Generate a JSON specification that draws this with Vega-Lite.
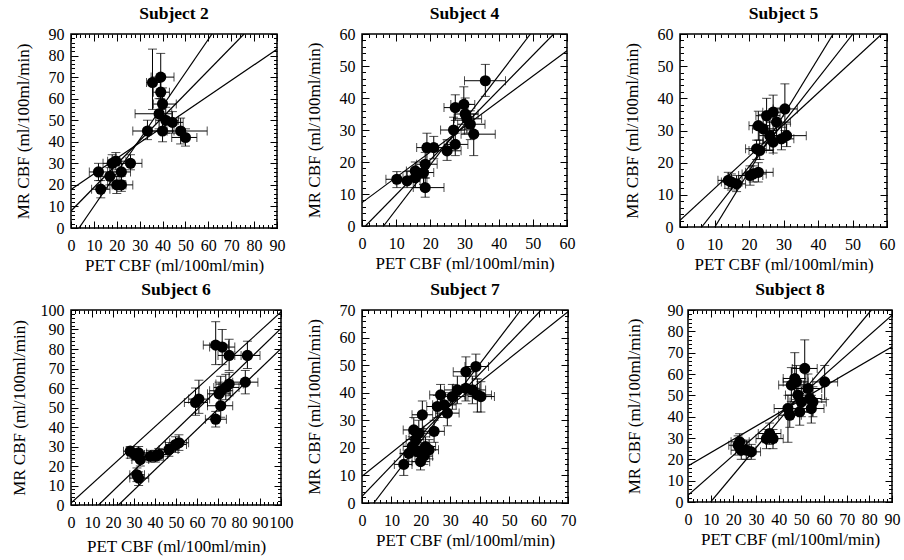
{
"$schema": "https://vega.github.io/schema/vega-lite/v6.json",
"padding": {"left": 9, "top": 3, "right": 5, "bottom": 5},
"background": "white",
"config": {
  "view": {"stroke": "black", "strokeWidth": 1.5},
  "font": "Liberation Serif",
  "title": {"font": "Liberation Serif", "fontSize": 17.5, "fontWeight": "bold", "color": "black", "offset": 4},
  "axis": {"labelFont": "Liberation Serif", "labelFontSize": 16, "labelColor": "black", "titleFont": "Liberation Serif", "titleFontSize": 17, "titleFontWeight": "normal", "titleColor": "black", "ticks": true, "tickColor": "black", "tickOpacity": 1, "tickWidth": 1, "domain": false, "grid": false, "labelOverlap": false, "labelFlush": false, "labelBound": false, "titlePadding": 16},
  "axisX": {"ticks": true, "tickColor": "black", "tickOpacity": 1, "tickWidth": 1},
  "axisY": {"ticks": true, "tickColor": "black", "tickOpacity": 1, "tickWidth": 1},
  "axisQuantitative": {"ticks": true, "tickColor": "black", "tickOpacity": 1, "tickWidth": 1}
},
"datasets": {
  "p2": [
    {"x":12,"y":26,"xlo":8,"xhi":16,"ylo":22,"yhi":30},
    {"x":13,"y":18,"xlo":9,"xhi":17,"ylo":14,"yhi":22},
    {"x":18,"y":30,"xlo":14,"xhi":22,"ylo":26,"yhi":34},
    {"x":19.6,"y":31,"xlo":16,"xhi":24,"ylo":27,"yhi":35},
    {"x":17,"y":24,"xlo":13,"xhi":21,"ylo":20,"yhi":28},
    {"x":20,"y":20,"xlo":16,"xhi":24,"ylo":16,"yhi":24},
    {"x":22,"y":20,"xlo":18,"xhi":27,"ylo":17,"yhi":24},
    {"x":22,"y":26,"xlo":18,"xhi":26,"ylo":22,"yhi":30},
    {"x":26,"y":30,"xlo":21,"xhi":31,"ylo":27,"yhi":34},
    {"x":33.4,"y":45,"xlo":27,"xhi":40,"ylo":41,"yhi":50},
    {"x":35.6,"y":67.5,"xlo":33,"xhi":39,"ylo":55,"yhi":83},
    {"x":39.2,"y":70,"xlo":35,"xhi":45,"ylo":60,"yhi":81},
    {"x":39.2,"y":63,"xlo":36,"xhi":43,"ylo":55,"yhi":71},
    {"x":40,"y":57.5,"xlo":36,"xhi":46,"ylo":50,"yhi":65},
    {"x":38.5,"y":53,"xlo":28,"xhi":44,"ylo":46,"yhi":60},
    {"x":41.4,"y":50,"xlo":37,"xhi":47,"ylo":44,"yhi":56},
    {"x":40,"y":45,"xlo":35,"xhi":45,"ylo":40,"yhi":50},
    {"x":44.3,"y":49,"xlo":40,"xhi":49,"ylo":44,"yhi":54},
    {"x":47.9,"y":45,"xlo":42,"xhi":59.5,"ylo":39,"yhi":51},
    {"x":50,"y":42,"xlo":44,"xhi":55,"ylo":38,"yhi":46}
  ],
  "f2": [
    {"line":"a","x":3.5,"y":0},{"line":"a","x":61.6,"y":90},
    {"line":"b","x":0,"y":7.9},{"line":"b","x":75.6,"y":90},
    {"line":"c","x":0,"y":17.9},{"line":"c","x":90,"y":82.9}
  ],
  "p4": [
    {"x":36.1,"y":45.4,"xlo":30,"xhi":42,"ylo":40.5,"yhi":50.5},
    {"x":27.3,"y":37,"xlo":24,"xhi":31,"ylo":33,"yhi":41},
    {"x":29.8,"y":38,"xlo":26,"xhi":33,"ylo":33,"yhi":43.5},
    {"x":26.8,"y":30,"xlo":23,"xhi":30,"ylo":26,"yhi":34},
    {"x":24.9,"y":23.5,"xlo":21,"xhi":29,"ylo":20.5,"yhi":27},
    {"x":27.3,"y":25.5,"xlo":24,"xhi":31,"ylo":22,"yhi":29},
    {"x":30.7,"y":33.5,"xlo":27,"xhi":35,"ylo":29,"yhi":38},
    {"x":31.7,"y":31.8,"xlo":28,"xhi":36,"ylo":27,"yhi":36},
    {"x":32.7,"y":28.7,"xlo":29,"xhi":39,"ylo":22,"yhi":35},
    {"x":30.2,"y":35,"xlo":27,"xhi":34,"ylo":30,"yhi":40},
    {"x":19,"y":24.5,"xlo":16,"xhi":22,"ylo":20,"yhi":29},
    {"x":21,"y":24.5,"xlo":18,"xhi":25,"ylo":21,"yhi":28},
    {"x":18.5,"y":19.3,"xlo":16,"xhi":22,"ylo":15,"yhi":23},
    {"x":18,"y":16.7,"xlo":15,"xhi":21,"ylo":13,"yhi":20},
    {"x":18.5,"y":12,"xlo":15,"xhi":24,"ylo":9,"yhi":15},
    {"x":15.6,"y":17.2,"xlo":13,"xhi":19,"ylo":14,"yhi":20},
    {"x":10.2,"y":14.6,"xlo":7,"xhi":14,"ylo":12,"yhi":17},
    {"x":13.2,"y":14.1,"xlo":10,"xhi":17,"ylo":12,"yhi":17},
    {"x":15.6,"y":15.1,"xlo":12,"xhi":19,"ylo":12,"yhi":18}
  ],
  "f4": [
    {"line":"a","x":6.3,"y":0},{"line":"a","x":49.3,"y":60},
    {"line":"b","x":1,"y":0},{"line":"b","x":56.1,"y":60},
    {"line":"c","x":0,"y":7.3},{"line":"c","x":60,"y":54.8}
  ],
  "p5": [
    {"x":14,"y":14.5,"xlo":11,"xhi":17,"ylo":12,"yhi":17},
    {"x":14.9,"y":14,"xlo":12,"xhi":18,"ylo":11.5,"yhi":16.5},
    {"x":16.4,"y":13.4,"xlo":13,"xhi":19,"ylo":11,"yhi":16},
    {"x":20.3,"y":16,"xlo":17,"xhi":24,"ylo":13,"yhi":19},
    {"x":21.2,"y":16.5,"xlo":18,"xhi":25,"ylo":14,"yhi":19},
    {"x":22.7,"y":17,"xlo":19,"xhi":27,"ylo":14,"yhi":20},
    {"x":22.2,"y":24.3,"xlo":19,"xhi":25,"ylo":21,"yhi":27},
    {"x":23.1,"y":23.8,"xlo":20,"xhi":27,"ylo":21,"yhi":27},
    {"x":22.7,"y":31.5,"xlo":20,"xhi":26,"ylo":27,"yhi":36},
    {"x":24.1,"y":30.5,"xlo":21,"xhi":28,"ylo":26,"yhi":35},
    {"x":25.1,"y":34.6,"xlo":22,"xhi":29,"ylo":29,"yhi":40},
    {"x":26,"y":28.4,"xlo":23,"xhi":30,"ylo":24,"yhi":33},
    {"x":27,"y":35.7,"xlo":24,"xhi":30,"ylo":30,"yhi":41},
    {"x":28,"y":32.6,"xlo":25,"xhi":32,"ylo":28,"yhi":37},
    {"x":29.4,"y":27.4,"xlo":26,"xhi":33,"ylo":24,"yhi":31},
    {"x":30.4,"y":36.7,"xlo":27,"xhi":34,"ylo":30,"yhi":44.5},
    {"x":30.9,"y":28.4,"xlo":27,"xhi":36.6,"ylo":25,"yhi":32},
    {"x":27,"y":26.4,"xlo":24,"xhi":31,"ylo":23,"yhi":30}
  ],
  "f5": [
    {"line":"a","x":10.1,"y":0},{"line":"a","x":44.4,"y":60},
    {"line":"b","x":6.3,"y":0},{"line":"b","x":50.1,"y":60},
    {"line":"c","x":0,"y":2.1},{"line":"c","x":58.5,"y":60}
  ],
  "p6": [
    {"x":28.2,"y":27.6,"xlo":25,"xhi":32,"ylo":24,"yhi":30},
    {"x":30.6,"y":25.9,"xlo":27,"xhi":35,"ylo":23,"yhi":29},
    {"x":32.2,"y":26.7,"xlo":28,"xhi":36,"ylo":23,"yhi":30},
    {"x":33,"y":23.3,"xlo":29,"xhi":37,"ylo":20,"yhi":27},
    {"x":31.4,"y":15.5,"xlo":28,"xhi":35,"ylo":12,"yhi":19},
    {"x":32.2,"y":13.8,"xlo":28,"xhi":37,"ylo":10,"yhi":17},
    {"x":37.8,"y":25,"xlo":34,"xhi":42,"ylo":22,"yhi":28},
    {"x":40.2,"y":25,"xlo":36,"xhi":44,"ylo":22,"yhi":28},
    {"x":41.8,"y":25.9,"xlo":38,"xhi":46,"ylo":23,"yhi":29},
    {"x":46.6,"y":28.4,"xlo":42,"xhi":51,"ylo":25,"yhi":32},
    {"x":49.8,"y":31,"xlo":45,"xhi":55,"ylo":27,"yhi":35},
    {"x":51.4,"y":31.9,"xlo":47,"xhi":56,"ylo":28,"yhi":36},
    {"x":59.3,"y":52.6,"xlo":54,"xhi":65,"ylo":46,"yhi":60},
    {"x":60.9,"y":54.3,"xlo":56,"xhi":66,"ylo":47,"yhi":64},
    {"x":68.9,"y":44,"xlo":64,"xhi":74,"ylo":40,"yhi":48},
    {"x":71.3,"y":50.9,"xlo":65,"xhi":77,"ylo":45,"yhi":57},
    {"x":70.5,"y":57,"xlo":65,"xhi":76,"ylo":51,"yhi":63},
    {"x":71.3,"y":58.6,"xlo":66,"xhi":77,"ylo":52,"yhi":66},
    {"x":73.7,"y":60.3,"xlo":68,"xhi":80,"ylo":54,"yhi":67},
    {"x":75.3,"y":62,"xlo":69,"xhi":82,"ylo":56,"yhi":68},
    {"x":83,"y":63,"xlo":77,"xhi":89,"ylo":57,"yhi":69},
    {"x":68.9,"y":82,"xlo":63,"xhi":75,"ylo":72,"yhi":94},
    {"x":72,"y":81,"xlo":66,"xhi":78,"ylo":72,"yhi":90},
    {"x":75.3,"y":76.7,"xlo":70,"xhi":81,"ylo":69,"yhi":85},
    {"x":84,"y":76.7,"xlo":78,"xhi":90,"ylo":70,"yhi":84}
  ],
  "f6": [
    {"line":"a","x":0,"y":1},{"line":"a","x":100,"y":99},
    {"line":"b","x":13.1,"y":0},{"line":"b","x":100,"y":90.5},
    {"line":"c","x":22.6,"y":0},{"line":"c","x":100,"y":80.2}
  ],
  "p7": [
    {"x":14.2,"y":14,"xlo":11,"xhi":17,"ylo":10,"yhi":18},
    {"x":15.9,"y":18,"xlo":13,"xhi":19,"ylo":15,"yhi":21},
    {"x":17.1,"y":20.5,"xlo":14,"xhi":20,"ylo":17,"yhi":24},
    {"x":18.2,"y":23,"xlo":15,"xhi":21,"ylo":19,"yhi":27},
    {"x":17.6,"y":26.5,"xlo":14,"xhi":21,"ylo":22,"yhi":31},
    {"x":19.3,"y":25.3,"xlo":16,"xhi":23,"ylo":21,"yhi":30},
    {"x":20.5,"y":32,"xlo":17,"xhi":24,"ylo":27,"yhi":37},
    {"x":21.6,"y":20.5,"xlo":18,"xhi":25,"ylo":17,"yhi":24},
    {"x":21,"y":17,"xlo":18,"xhi":24,"ylo":14,"yhi":20},
    {"x":19.9,"y":15,"xlo":17,"xhi":23,"ylo":12,"yhi":18},
    {"x":18.8,"y":18.7,"xlo":16,"xhi":22,"ylo":15,"yhi":22},
    {"x":22.8,"y":19.3,"xlo":20,"xhi":26,"ylo":16,"yhi":23},
    {"x":24.5,"y":26,"xlo":21,"xhi":28,"ylo":22,"yhi":30},
    {"x":25.6,"y":35,"xlo":22,"xhi":29,"ylo":31,"yhi":39},
    {"x":26.7,"y":39.2,"xlo":23,"xhi":31,"ylo":35,"yhi":43},
    {"x":27.9,"y":35.6,"xlo":24,"xhi":32,"ylo":31,"yhi":40},
    {"x":29,"y":32.6,"xlo":25,"xhi":33,"ylo":28,"yhi":37},
    {"x":30.7,"y":38.6,"xlo":27,"xhi":35,"ylo":34,"yhi":43},
    {"x":32.4,"y":41,"xlo":28,"xhi":37,"ylo":36,"yhi":46},
    {"x":35.3,"y":41.6,"xlo":31,"xhi":40,"ylo":37,"yhi":46},
    {"x":35.3,"y":47.6,"xlo":31,"xhi":39,"ylo":43,"yhi":53},
    {"x":38.7,"y":49.5,"xlo":35,"xhi":43,"ylo":45,"yhi":54},
    {"x":37.5,"y":41,"xlo":33,"xhi":42,"ylo":36,"yhi":46},
    {"x":40.4,"y":38.6,"xlo":36,"xhi":45,"ylo":33,"yhi":44},
    {"x":39.2,"y":39.2,"xlo":35,"xhi":44,"ylo":33,"yhi":45}
  ],
  "f7": [
    {"line":"a","x":4,"y":0},{"line":"a","x":54,"y":70},
    {"line":"b","x":0,"y":2.4},{"line":"b","x":60.9,"y":70},
    {"line":"c","x":0,"y":9.7},{"line":"c","x":70,"y":69.4}
  ],
  "p8": [
    {"x":22.1,"y":26.6,"xlo":18,"xhi":26,"ylo":22,"yhi":31},
    {"x":23.5,"y":24.3,"xlo":19,"xhi":28,"ylo":20,"yhi":29},
    {"x":25.7,"y":24.3,"xlo":21,"xhi":30,"ylo":20,"yhi":29},
    {"x":27.9,"y":23.5,"xlo":23,"xhi":32,"ylo":20,"yhi":27},
    {"x":22.8,"y":28.2,"xlo":19,"xhi":27,"ylo":24,"yhi":32},
    {"x":36,"y":32.1,"xlo":31,"xhi":41,"ylo":27,"yhi":37},
    {"x":37.5,"y":29.7,"xlo":33,"xhi":42,"ylo":25,"yhi":34},
    {"x":34.6,"y":29.7,"xlo":30,"xhi":39,"ylo":25,"yhi":34},
    {"x":44.1,"y":43.8,"xlo":38,"xhi":50,"ylo":28,"yhi":50},
    {"x":44.9,"y":40.7,"xlo":40,"xhi":50,"ylo":35,"yhi":46},
    {"x":45.6,"y":54.8,"xlo":40,"xhi":51,"ylo":47,"yhi":63},
    {"x":47.1,"y":57.9,"xlo":42,"xhi":52,"ylo":50,"yhi":70},
    {"x":48.5,"y":50.1,"xlo":43,"xhi":54,"ylo":43,"yhi":57},
    {"x":50,"y":46.9,"xlo":45,"xhi":55,"ylo":40,"yhi":54},
    {"x":51.5,"y":62.6,"xlo":46,"xhi":57,"ylo":55,"yhi":76},
    {"x":52.9,"y":53.2,"xlo":47,"xhi":59,"ylo":46,"yhi":60},
    {"x":54.4,"y":43.8,"xlo":49,"xhi":60,"ylo":37,"yhi":50},
    {"x":55.1,"y":46.9,"xlo":50,"xhi":61,"ylo":40,"yhi":54},
    {"x":49.3,"y":42.3,"xlo":44,"xhi":55,"ylo":36,"yhi":49},
    {"x":47.8,"y":56.3,"xlo":42,"xhi":53,"ylo":48,"yhi":64},
    {"x":60.3,"y":56.3,"xlo":55,"xhi":66,"ylo":48,"yhi":64},
    {"x":53.7,"y":48.5,"xlo":48,"xhi":59,"ylo":42,"yhi":55}
  ],
  "f8": [
    {"line":"a","x":10,"y":0},{"line":"a","x":80.9,"y":90},
    {"line":"b","x":0,"y":3.1},{"line":"b","x":90,"y":87.6},
    {"line":"c","x":0,"y":16.9},{"line":"c","x":90,"y":72.8}
  ]
},
"vconcat": [
 {"hconcat": [
  {"title": "Subject 2", "width": 206, "height": 194, "data": {"name": "p2"},
   "resolve": {"axis": {"x": "independent", "y": "independent"}},
   "layer": [
    {"mark": {"type": "rule", "color": "black", "strokeWidth": 1},
     "encoding": {
      "x": {"field": "xlo", "type": "quantitative", "scale": {"domain": [0, 90], "nice": false, "zero": false}, "axis": {"orient": "bottom", "ticks": true, "tickColor": "black", "tickWidth": 1, "tickOpacity": 1, "zindex": 1, "values": [0,10,20,30,40,50,60,70,80,90], "tickSize": 7, "offset": -7, "labelPadding": 9, "title": "PET CBF (ml/100ml/min)", "titlePadding": 4}},
      "x2": {"field": "xhi"},
      "y": {"field": "y", "type": "quantitative", "scale": {"domain": [0, 90], "nice": false, "zero": false}, "axis": {"orient": "left", "ticks": true, "tickColor": "black", "tickWidth": 1, "tickOpacity": 1, "zindex": 1, "values": [0,10,20,30,40,50,60,70,80,90], "tickSize": 7, "offset": -7, "labelPadding": 7, "title": "MR CBF (ml/100ml/min)"}}}},
    {"mark": {"type": "rule", "color": "black", "strokeWidth": 1},
     "encoding": {
      "x": {"field": "x", "type": "quantitative", "scale": {"domain": [0, 90], "nice": false, "zero": false}, "axis": {"orient": "bottom", "ticks": true, "tickColor": "black", "tickWidth": 1, "tickOpacity": 1, "zindex": 1, "values": [0,2,4,6,8,10,12,14,16,18,20,22,24,26,28,30,32,34,36,38,40,42,44,46,48,50,52,54,56,58,60,62,64,66,68,70,72,74,76,78,80,82,84,86,88,90], "tickSize": 3.5, "offset": -3.5, "labels": false, "title": null}},
      "y": {"field": "ylo", "type": "quantitative", "scale": {"domain": [0, 90], "nice": false, "zero": false}, "axis": {"orient": "left", "ticks": true, "tickColor": "black", "tickWidth": 1, "tickOpacity": 1, "zindex": 1, "values": [0,2,4,6,8,10,12,14,16,18,20,22,24,26,28,30,32,34,36,38,40,42,44,46,48,50,52,54,56,58,60,62,64,66,68,70,72,74,76,78,80,82,84,86,88,90], "tickSize": 3.5, "offset": -3.5, "labels": false, "title": null}},
      "y2": {"field": "yhi"}}},
    {"mark": {"type": "tick", "orient": "vertical", "size": 9, "thickness": 1, "color": "black"},
     "encoding": {
      "x": {"field": "xlo", "type": "quantitative", "scale": {"domain": [0, 90], "nice": false, "zero": false}, "axis": {"orient": "top", "ticks": true, "tickColor": "black", "tickWidth": 1, "tickOpacity": 1, "zindex": 1, "values": [0,10,20,30,40,50,60,70,80,90], "tickSize": 7, "offset": -7, "labels": false, "title": null}},
      "y": {"field": "y", "type": "quantitative", "scale": {"domain": [0, 90], "nice": false, "zero": false}, "axis": {"orient": "right", "ticks": true, "tickColor": "black", "tickWidth": 1, "tickOpacity": 1, "zindex": 1, "values": [0,10,20,30,40,50,60,70,80,90], "tickSize": 7, "offset": -7, "labels": false, "title": null}}}},
    {"mark": {"type": "tick", "orient": "vertical", "size": 9, "thickness": 1, "color": "black"},
     "encoding": {
      "x": {"field": "xhi", "type": "quantitative", "scale": {"domain": [0, 90], "nice": false, "zero": false}, "axis": {"orient": "top", "ticks": true, "tickColor": "black", "tickWidth": 1, "tickOpacity": 1, "zindex": 1, "values": [0,2,4,6,8,10,12,14,16,18,20,22,24,26,28,30,32,34,36,38,40,42,44,46,48,50,52,54,56,58,60,62,64,66,68,70,72,74,76,78,80,82,84,86,88,90], "tickSize": 3.5, "offset": -3.5, "labels": false, "title": null}},
      "y": {"field": "y", "type": "quantitative", "scale": {"domain": [0, 90], "nice": false, "zero": false}, "axis": {"orient": "right", "ticks": true, "tickColor": "black", "tickWidth": 1, "tickOpacity": 1, "zindex": 1, "values": [0,2,4,6,8,10,12,14,16,18,20,22,24,26,28,30,32,34,36,38,40,42,44,46,48,50,52,54,56,58,60,62,64,66,68,70,72,74,76,78,80,82,84,86,88,90], "tickSize": 3.5, "offset": -3.5, "labels": false, "title": null}}}},
    {"mark": {"type": "tick", "orient": "horizontal", "size": 9, "thickness": 1, "color": "black"},
     "encoding": {
      "x": {"field": "x", "type": "quantitative", "scale": {"domain": [0, 90], "nice": false, "zero": false}, "axis": null},
      "y": {"field": "ylo", "type": "quantitative", "scale": {"domain": [0, 90], "nice": false, "zero": false}, "axis": null}}},
    {"mark": {"type": "tick", "orient": "horizontal", "size": 9, "thickness": 1, "color": "black"},
     "encoding": {
      "x": {"field": "x", "type": "quantitative", "scale": {"domain": [0, 90], "nice": false, "zero": false}, "axis": null},
      "y": {"field": "yhi", "type": "quantitative", "scale": {"domain": [0, 90], "nice": false, "zero": false}, "axis": null}}},
    {"data": {"name": "f2"}, "mark": {"type": "line", "color": "black", "strokeWidth": 1.2, "clip": true},
     "encoding": {
      "x": {"field": "x", "type": "quantitative", "scale": {"domain": [0, 90], "nice": false, "zero": false}, "axis": null},
      "y": {"field": "y", "type": "quantitative", "scale": {"domain": [0, 90], "nice": false, "zero": false}, "axis": null},
      "detail": {"field": "line", "type": "nominal"}}},
    {"mark": {"type": "circle", "size": 125, "color": "black", "opacity": 1},
     "encoding": {
      "x": {"field": "x", "type": "quantitative", "scale": {"domain": [0, 90], "nice": false, "zero": false}, "axis": null},
      "y": {"field": "y", "type": "quantitative", "scale": {"domain": [0, 90], "nice": false, "zero": false}, "axis": null}}}
   ]},
  {"hconcat": [
   {"title": "Subject 4", "width": 205, "height": 192, "data": {"name": "p4"},
    "resolve": {"axis": {"x": "independent", "y": "independent"}},
    "layer": [
     {"mark": {"type": "rule", "color": "black", "strokeWidth": 1},
      "encoding": {
       "x": {"field": "xlo", "type": "quantitative", "scale": {"domain": [0, 60], "nice": false, "zero": false}, "axis": {"orient": "bottom", "ticks": true, "tickColor": "black", "tickWidth": 1, "tickOpacity": 1, "zindex": 1, "values": [0,10,20,30,40,50,60], "tickSize": 7, "offset": -7, "labelPadding": 9, "title": "PET CBF (ml/100ml/min)", "titlePadding": 4}},
       "x2": {"field": "xhi"},
       "y": {"field": "y", "type": "quantitative", "scale": {"domain": [0, 60], "nice": false, "zero": false}, "axis": {"orient": "left", "ticks": true, "tickColor": "black", "tickWidth": 1, "tickOpacity": 1, "zindex": 1, "values": [0,10,20,30,40,50,60], "tickSize": 7, "offset": -7, "labelPadding": 7, "title": "MR CBF (ml/100ml/min)"}}}},
     {"mark": {"type": "rule", "color": "black", "strokeWidth": 1},
      "encoding": {
       "x": {"field": "x", "type": "quantitative", "scale": {"domain": [0, 60], "nice": false, "zero": false}, "axis": {"orient": "bottom", "ticks": true, "tickColor": "black", "tickWidth": 1, "tickOpacity": 1, "zindex": 1, "values": [0,2,4,6,8,10,12,14,16,18,20,22,24,26,28,30,32,34,36,38,40,42,44,46,48,50,52,54,56,58,60], "tickSize": 3.5, "offset": -3.5, "labels": false, "title": null}},
       "y": {"field": "ylo", "type": "quantitative", "scale": {"domain": [0, 60], "nice": false, "zero": false}, "axis": {"orient": "left", "ticks": true, "tickColor": "black", "tickWidth": 1, "tickOpacity": 1, "zindex": 1, "values": [0,2,4,6,8,10,12,14,16,18,20,22,24,26,28,30,32,34,36,38,40,42,44,46,48,50,52,54,56,58,60], "tickSize": 3.5, "offset": -3.5, "labels": false, "title": null}},
       "y2": {"field": "yhi"}}},
     {"mark": {"type": "tick", "orient": "vertical", "size": 9, "thickness": 1, "color": "black"},
      "encoding": {
       "x": {"field": "xlo", "type": "quantitative", "scale": {"domain": [0, 60], "nice": false, "zero": false}, "axis": {"orient": "top", "ticks": true, "tickColor": "black", "tickWidth": 1, "tickOpacity": 1, "zindex": 1, "values": [0,10,20,30,40,50,60], "tickSize": 7, "offset": -7, "labels": false, "title": null}},
       "y": {"field": "y", "type": "quantitative", "scale": {"domain": [0, 60], "nice": false, "zero": false}, "axis": {"orient": "right", "ticks": true, "tickColor": "black", "tickWidth": 1, "tickOpacity": 1, "zindex": 1, "values": [0,10,20,30,40,50,60], "tickSize": 7, "offset": -7, "labels": false, "title": null}}}},
     {"mark": {"type": "tick", "orient": "vertical", "size": 9, "thickness": 1, "color": "black"},
      "encoding": {
       "x": {"field": "xhi", "type": "quantitative", "scale": {"domain": [0, 60], "nice": false, "zero": false}, "axis": {"orient": "top", "ticks": true, "tickColor": "black", "tickWidth": 1, "tickOpacity": 1, "zindex": 1, "values": [0,2,4,6,8,10,12,14,16,18,20,22,24,26,28,30,32,34,36,38,40,42,44,46,48,50,52,54,56,58,60], "tickSize": 3.5, "offset": -3.5, "labels": false, "title": null}},
       "y": {"field": "y", "type": "quantitative", "scale": {"domain": [0, 60], "nice": false, "zero": false}, "axis": {"orient": "right", "ticks": true, "tickColor": "black", "tickWidth": 1, "tickOpacity": 1, "zindex": 1, "values": [0,2,4,6,8,10,12,14,16,18,20,22,24,26,28,30,32,34,36,38,40,42,44,46,48,50,52,54,56,58,60], "tickSize": 3.5, "offset": -3.5, "labels": false, "title": null}}}},
     {"mark": {"type": "tick", "orient": "horizontal", "size": 9, "thickness": 1, "color": "black"},
      "encoding": {
       "x": {"field": "x", "type": "quantitative", "scale": {"domain": [0, 60], "nice": false, "zero": false}, "axis": null},
       "y": {"field": "ylo", "type": "quantitative", "scale": {"domain": [0, 60], "nice": false, "zero": false}, "axis": null}}},
     {"mark": {"type": "tick", "orient": "horizontal", "size": 9, "thickness": 1, "color": "black"},
      "encoding": {
       "x": {"field": "x", "type": "quantitative", "scale": {"domain": [0, 60], "nice": false, "zero": false}, "axis": null},
       "y": {"field": "yhi", "type": "quantitative", "scale": {"domain": [0, 60], "nice": false, "zero": false}, "axis": null}}},
     {"data": {"name": "f4"}, "mark": {"type": "line", "color": "black", "strokeWidth": 1.2, "clip": true},
      "encoding": {
       "x": {"field": "x", "type": "quantitative", "scale": {"domain": [0, 60], "nice": false, "zero": false}, "axis": null},
       "y": {"field": "y", "type": "quantitative", "scale": {"domain": [0, 60], "nice": false, "zero": false}, "axis": null},
       "detail": {"field": "line", "type": "nominal"}}},
     {"mark": {"type": "circle", "size": 125, "color": "black", "opacity": 1},
      "encoding": {
       "x": {"field": "x", "type": "quantitative", "scale": {"domain": [0, 60], "nice": false, "zero": false}, "axis": null},
       "y": {"field": "y", "type": "quantitative", "scale": {"domain": [0, 60], "nice": false, "zero": false}, "axis": null}}}
    ]},
   {"title": "Subject 5", "width": 207, "height": 193, "data": {"name": "p5"},
    "resolve": {"axis": {"x": "independent", "y": "independent"}},
    "layer": [
     {"mark": {"type": "rule", "color": "black", "strokeWidth": 1},
      "encoding": {
       "x": {"field": "xlo", "type": "quantitative", "scale": {"domain": [0, 60], "nice": false, "zero": false}, "axis": {"orient": "bottom", "ticks": true, "tickColor": "black", "tickWidth": 1, "tickOpacity": 1, "zindex": 1, "values": [0,10,20,30,40,50,60], "tickSize": 7, "offset": -7, "labelPadding": 9, "title": "PET CBF (ml/100ml/min)", "titlePadding": 4}},
       "x2": {"field": "xhi"},
       "y": {"field": "y", "type": "quantitative", "scale": {"domain": [0, 60], "nice": false, "zero": false}, "axis": {"orient": "left", "ticks": true, "tickColor": "black", "tickWidth": 1, "tickOpacity": 1, "zindex": 1, "values": [0,10,20,30,40,50,60], "tickSize": 7, "offset": -7, "labelPadding": 7, "title": "MR CBF (ml/100ml/min)"}}}},
     {"mark": {"type": "rule", "color": "black", "strokeWidth": 1},
      "encoding": {
       "x": {"field": "x", "type": "quantitative", "scale": {"domain": [0, 60], "nice": false, "zero": false}, "axis": {"orient": "bottom", "ticks": true, "tickColor": "black", "tickWidth": 1, "tickOpacity": 1, "zindex": 1, "values": [0,2,4,6,8,10,12,14,16,18,20,22,24,26,28,30,32,34,36,38,40,42,44,46,48,50,52,54,56,58,60], "tickSize": 3.5, "offset": -3.5, "labels": false, "title": null}},
       "y": {"field": "ylo", "type": "quantitative", "scale": {"domain": [0, 60], "nice": false, "zero": false}, "axis": {"orient": "left", "ticks": true, "tickColor": "black", "tickWidth": 1, "tickOpacity": 1, "zindex": 1, "values": [0,2,4,6,8,10,12,14,16,18,20,22,24,26,28,30,32,34,36,38,40,42,44,46,48,50,52,54,56,58,60], "tickSize": 3.5, "offset": -3.5, "labels": false, "title": null}},
       "y2": {"field": "yhi"}}},
     {"mark": {"type": "tick", "orient": "vertical", "size": 9, "thickness": 1, "color": "black"},
      "encoding": {
       "x": {"field": "xlo", "type": "quantitative", "scale": {"domain": [0, 60], "nice": false, "zero": false}, "axis": {"orient": "top", "ticks": true, "tickColor": "black", "tickWidth": 1, "tickOpacity": 1, "zindex": 1, "values": [0,10,20,30,40,50,60], "tickSize": 7, "offset": -7, "labels": false, "title": null}},
       "y": {"field": "y", "type": "quantitative", "scale": {"domain": [0, 60], "nice": false, "zero": false}, "axis": {"orient": "right", "ticks": true, "tickColor": "black", "tickWidth": 1, "tickOpacity": 1, "zindex": 1, "values": [0,10,20,30,40,50,60], "tickSize": 7, "offset": -7, "labels": false, "title": null}}}},
     {"mark": {"type": "tick", "orient": "vertical", "size": 9, "thickness": 1, "color": "black"},
      "encoding": {
       "x": {"field": "xhi", "type": "quantitative", "scale": {"domain": [0, 60], "nice": false, "zero": false}, "axis": {"orient": "top", "ticks": true, "tickColor": "black", "tickWidth": 1, "tickOpacity": 1, "zindex": 1, "values": [0,2,4,6,8,10,12,14,16,18,20,22,24,26,28,30,32,34,36,38,40,42,44,46,48,50,52,54,56,58,60], "tickSize": 3.5, "offset": -3.5, "labels": false, "title": null}},
       "y": {"field": "y", "type": "quantitative", "scale": {"domain": [0, 60], "nice": false, "zero": false}, "axis": {"orient": "right", "ticks": true, "tickColor": "black", "tickWidth": 1, "tickOpacity": 1, "zindex": 1, "values": [0,2,4,6,8,10,12,14,16,18,20,22,24,26,28,30,32,34,36,38,40,42,44,46,48,50,52,54,56,58,60], "tickSize": 3.5, "offset": -3.5, "labels": false, "title": null}}}},
     {"mark": {"type": "tick", "orient": "horizontal", "size": 9, "thickness": 1, "color": "black"},
      "encoding": {
       "x": {"field": "x", "type": "quantitative", "scale": {"domain": [0, 60], "nice": false, "zero": false}, "axis": null},
       "y": {"field": "ylo", "type": "quantitative", "scale": {"domain": [0, 60], "nice": false, "zero": false}, "axis": null}}},
     {"mark": {"type": "tick", "orient": "horizontal", "size": 9, "thickness": 1, "color": "black"},
      "encoding": {
       "x": {"field": "x", "type": "quantitative", "scale": {"domain": [0, 60], "nice": false, "zero": false}, "axis": null},
       "y": {"field": "yhi", "type": "quantitative", "scale": {"domain": [0, 60], "nice": false, "zero": false}, "axis": null}}},
     {"data": {"name": "f5"}, "mark": {"type": "line", "color": "black", "strokeWidth": 1.2, "clip": true},
      "encoding": {
       "x": {"field": "x", "type": "quantitative", "scale": {"domain": [0, 60], "nice": false, "zero": false}, "axis": null},
       "y": {"field": "y", "type": "quantitative", "scale": {"domain": [0, 60], "nice": false, "zero": false}, "axis": null},
       "detail": {"field": "line", "type": "nominal"}}},
     {"mark": {"type": "circle", "size": 125, "color": "black", "opacity": 1},
      "encoding": {
       "x": {"field": "x", "type": "quantitative", "scale": {"domain": [0, 60], "nice": false, "zero": false}, "axis": null},
       "y": {"field": "y", "type": "quantitative", "scale": {"domain": [0, 60], "nice": false, "zero": false}, "axis": null}}}
    ]}
  ], "spacing": 46}
 ], "spacing": 18},
 {"hconcat": [
  {"title": "Subject 6", "width": 210, "height": 195, "data": {"name": "p6"},
   "resolve": {"axis": {"x": "independent", "y": "independent"}},
   "layer": [
    {"mark": {"type": "rule", "color": "black", "strokeWidth": 1},
     "encoding": {
      "x": {"field": "xlo", "type": "quantitative", "scale": {"domain": [0, 100], "nice": false, "zero": false}, "axis": {"orient": "bottom", "ticks": true, "tickColor": "black", "tickWidth": 1, "tickOpacity": 1, "zindex": 1, "values": [0,10,20,30,40,50,60,70,80,90,100], "tickSize": 7, "offset": -7, "labelPadding": 9, "title": "PET CBF (ml/100ml/min)", "titlePadding": 8}},
      "x2": {"field": "xhi"},
      "y": {"field": "y", "type": "quantitative", "scale": {"domain": [0, 100], "nice": false, "zero": false}, "axis": {"orient": "left", "ticks": true, "tickColor": "black", "tickWidth": 1, "tickOpacity": 1, "zindex": 1, "values": [0,10,20,30,40,50,60,70,80,90,100], "tickSize": 7, "offset": -7, "labelPadding": 7, "title": "MR CBF (ml/100ml/min)", "titlePadding": 12}}}},
    {"mark": {"type": "rule", "color": "black", "strokeWidth": 1},
     "encoding": {
      "x": {"field": "x", "type": "quantitative", "scale": {"domain": [0, 100], "nice": false, "zero": false}, "axis": {"orient": "bottom", "ticks": true, "tickColor": "black", "tickWidth": 1, "tickOpacity": 1, "zindex": 1, "values": [0,2,4,6,8,10,12,14,16,18,20,22,24,26,28,30,32,34,36,38,40,42,44,46,48,50,52,54,56,58,60,62,64,66,68,70,72,74,76,78,80,82,84,86,88,90,92,94,96,98,100], "tickSize": 3.5, "offset": -3.5, "labels": false, "title": null}},
      "y": {"field": "ylo", "type": "quantitative", "scale": {"domain": [0, 100], "nice": false, "zero": false}, "axis": {"orient": "left", "ticks": true, "tickColor": "black", "tickWidth": 1, "tickOpacity": 1, "zindex": 1, "values": [0,2,4,6,8,10,12,14,16,18,20,22,24,26,28,30,32,34,36,38,40,42,44,46,48,50,52,54,56,58,60,62,64,66,68,70,72,74,76,78,80,82,84,86,88,90,92,94,96,98,100], "tickSize": 3.5, "offset": -3.5, "labels": false, "title": null}},
      "y2": {"field": "yhi"}}},
    {"mark": {"type": "tick", "orient": "vertical", "size": 9, "thickness": 1, "color": "black"},
     "encoding": {
      "x": {"field": "xlo", "type": "quantitative", "scale": {"domain": [0, 100], "nice": false, "zero": false}, "axis": {"orient": "top", "ticks": true, "tickColor": "black", "tickWidth": 1, "tickOpacity": 1, "zindex": 1, "values": [0,10,20,30,40,50,60,70,80,90,100], "tickSize": 7, "offset": -7, "labels": false, "title": null}},
      "y": {"field": "y", "type": "quantitative", "scale": {"domain": [0, 100], "nice": false, "zero": false}, "axis": {"orient": "right", "ticks": true, "tickColor": "black", "tickWidth": 1, "tickOpacity": 1, "zindex": 1, "values": [0,10,20,30,40,50,60,70,80,90,100], "tickSize": 7, "offset": -7, "labels": false, "title": null}}}},
    {"mark": {"type": "tick", "orient": "vertical", "size": 9, "thickness": 1, "color": "black"},
     "encoding": {
      "x": {"field": "xhi", "type": "quantitative", "scale": {"domain": [0, 100], "nice": false, "zero": false}, "axis": {"orient": "top", "ticks": true, "tickColor": "black", "tickWidth": 1, "tickOpacity": 1, "zindex": 1, "values": [0,2,4,6,8,10,12,14,16,18,20,22,24,26,28,30,32,34,36,38,40,42,44,46,48,50,52,54,56,58,60,62,64,66,68,70,72,74,76,78,80,82,84,86,88,90,92,94,96,98,100], "tickSize": 3.5, "offset": -3.5, "labels": false, "title": null}},
      "y": {"field": "y", "type": "quantitative", "scale": {"domain": [0, 100], "nice": false, "zero": false}, "axis": {"orient": "right", "ticks": true, "tickColor": "black", "tickWidth": 1, "tickOpacity": 1, "zindex": 1, "values": [0,2,4,6,8,10,12,14,16,18,20,22,24,26,28,30,32,34,36,38,40,42,44,46,48,50,52,54,56,58,60,62,64,66,68,70,72,74,76,78,80,82,84,86,88,90,92,94,96,98,100], "tickSize": 3.5, "offset": -3.5, "labels": false, "title": null}}}},
    {"mark": {"type": "tick", "orient": "horizontal", "size": 9, "thickness": 1, "color": "black"},
     "encoding": {
      "x": {"field": "x", "type": "quantitative", "scale": {"domain": [0, 100], "nice": false, "zero": false}, "axis": null},
      "y": {"field": "ylo", "type": "quantitative", "scale": {"domain": [0, 100], "nice": false, "zero": false}, "axis": null}}},
    {"mark": {"type": "tick", "orient": "horizontal", "size": 9, "thickness": 1, "color": "black"},
     "encoding": {
      "x": {"field": "x", "type": "quantitative", "scale": {"domain": [0, 100], "nice": false, "zero": false}, "axis": null},
      "y": {"field": "yhi", "type": "quantitative", "scale": {"domain": [0, 100], "nice": false, "zero": false}, "axis": null}}},
    {"data": {"name": "f6"}, "mark": {"type": "line", "color": "black", "strokeWidth": 1.2, "clip": true},
     "encoding": {
      "x": {"field": "x", "type": "quantitative", "scale": {"domain": [0, 100], "nice": false, "zero": false}, "axis": null},
      "y": {"field": "y", "type": "quantitative", "scale": {"domain": [0, 100], "nice": false, "zero": false}, "axis": null},
      "detail": {"field": "line", "type": "nominal"}}},
    {"mark": {"type": "circle", "size": 125, "color": "black", "opacity": 1},
     "encoding": {
      "x": {"field": "x", "type": "quantitative", "scale": {"domain": [0, 100], "nice": false, "zero": false}, "axis": null},
      "y": {"field": "y", "type": "quantitative", "scale": {"domain": [0, 100], "nice": false, "zero": false}, "axis": null}}}
   ]},
  {"hconcat": [
   {"title": "Subject 7", "width": 206, "height": 193, "data": {"name": "p7"},
    "resolve": {"axis": {"x": "independent", "y": "independent"}},
    "layer": [
     {"mark": {"type": "rule", "color": "black", "strokeWidth": 1},
      "encoding": {
       "x": {"field": "xlo", "type": "quantitative", "scale": {"domain": [0, 70], "nice": false, "zero": false}, "axis": {"orient": "bottom", "ticks": true, "tickColor": "black", "tickWidth": 1, "tickOpacity": 1, "zindex": 1, "values": [0,10,20,30,40,50,60,70], "tickSize": 7, "offset": -7, "labelPadding": 9, "title": "PET CBF (ml/100ml/min)", "titlePadding": 4}},
       "x2": {"field": "xhi"},
       "y": {"field": "y", "type": "quantitative", "scale": {"domain": [0, 70], "nice": false, "zero": false}, "axis": {"orient": "left", "ticks": true, "tickColor": "black", "tickWidth": 1, "tickOpacity": 1, "zindex": 1, "values": [0,10,20,30,40,50,60,70], "tickSize": 7, "offset": -7, "labelPadding": 7, "title": "MR CBF (ml/100ml/min)"}}}},
     {"mark": {"type": "rule", "color": "black", "strokeWidth": 1},
      "encoding": {
       "x": {"field": "x", "type": "quantitative", "scale": {"domain": [0, 70], "nice": false, "zero": false}, "axis": {"orient": "bottom", "ticks": true, "tickColor": "black", "tickWidth": 1, "tickOpacity": 1, "zindex": 1, "values": [0,2,4,6,8,10,12,14,16,18,20,22,24,26,28,30,32,34,36,38,40,42,44,46,48,50,52,54,56,58,60,62,64,66,68,70], "tickSize": 3.5, "offset": -3.5, "labels": false, "title": null}},
       "y": {"field": "ylo", "type": "quantitative", "scale": {"domain": [0, 70], "nice": false, "zero": false}, "axis": {"orient": "left", "ticks": true, "tickColor": "black", "tickWidth": 1, "tickOpacity": 1, "zindex": 1, "values": [0,2,4,6,8,10,12,14,16,18,20,22,24,26,28,30,32,34,36,38,40,42,44,46,48,50,52,54,56,58,60,62,64,66,68,70], "tickSize": 3.5, "offset": -3.5, "labels": false, "title": null}},
       "y2": {"field": "yhi"}}},
     {"mark": {"type": "tick", "orient": "vertical", "size": 9, "thickness": 1, "color": "black"},
      "encoding": {
       "x": {"field": "xlo", "type": "quantitative", "scale": {"domain": [0, 70], "nice": false, "zero": false}, "axis": {"orient": "top", "ticks": true, "tickColor": "black", "tickWidth": 1, "tickOpacity": 1, "zindex": 1, "values": [0,10,20,30,40,50,60,70], "tickSize": 7, "offset": -7, "labels": false, "title": null}},
       "y": {"field": "y", "type": "quantitative", "scale": {"domain": [0, 70], "nice": false, "zero": false}, "axis": {"orient": "right", "ticks": true, "tickColor": "black", "tickWidth": 1, "tickOpacity": 1, "zindex": 1, "values": [0,10,20,30,40,50,60,70], "tickSize": 7, "offset": -7, "labels": false, "title": null}}}},
     {"mark": {"type": "tick", "orient": "vertical", "size": 9, "thickness": 1, "color": "black"},
      "encoding": {
       "x": {"field": "xhi", "type": "quantitative", "scale": {"domain": [0, 70], "nice": false, "zero": false}, "axis": {"orient": "top", "ticks": true, "tickColor": "black", "tickWidth": 1, "tickOpacity": 1, "zindex": 1, "values": [0,2,4,6,8,10,12,14,16,18,20,22,24,26,28,30,32,34,36,38,40,42,44,46,48,50,52,54,56,58,60,62,64,66,68,70], "tickSize": 3.5, "offset": -3.5, "labels": false, "title": null}},
       "y": {"field": "y", "type": "quantitative", "scale": {"domain": [0, 70], "nice": false, "zero": false}, "axis": {"orient": "right", "ticks": true, "tickColor": "black", "tickWidth": 1, "tickOpacity": 1, "zindex": 1, "values": [0,2,4,6,8,10,12,14,16,18,20,22,24,26,28,30,32,34,36,38,40,42,44,46,48,50,52,54,56,58,60,62,64,66,68,70], "tickSize": 3.5, "offset": -3.5, "labels": false, "title": null}}}},
     {"mark": {"type": "tick", "orient": "horizontal", "size": 9, "thickness": 1, "color": "black"},
      "encoding": {
       "x": {"field": "x", "type": "quantitative", "scale": {"domain": [0, 70], "nice": false, "zero": false}, "axis": null},
       "y": {"field": "ylo", "type": "quantitative", "scale": {"domain": [0, 70], "nice": false, "zero": false}, "axis": null}}},
     {"mark": {"type": "tick", "orient": "horizontal", "size": 9, "thickness": 1, "color": "black"},
      "encoding": {
       "x": {"field": "x", "type": "quantitative", "scale": {"domain": [0, 70], "nice": false, "zero": false}, "axis": null},
       "y": {"field": "yhi", "type": "quantitative", "scale": {"domain": [0, 70], "nice": false, "zero": false}, "axis": null}}},
     {"data": {"name": "f7"}, "mark": {"type": "line", "color": "black", "strokeWidth": 1.2, "clip": true},
      "encoding": {
       "x": {"field": "x", "type": "quantitative", "scale": {"domain": [0, 70], "nice": false, "zero": false}, "axis": null},
       "y": {"field": "y", "type": "quantitative", "scale": {"domain": [0, 70], "nice": false, "zero": false}, "axis": null},
       "detail": {"field": "line", "type": "nominal"}}},
     {"mark": {"type": "circle", "size": 125, "color": "black", "opacity": 1},
      "encoding": {
       "x": {"field": "x", "type": "quantitative", "scale": {"domain": [0, 70], "nice": false, "zero": false}, "axis": null},
       "y": {"field": "y", "type": "quantitative", "scale": {"domain": [0, 70], "nice": false, "zero": false}, "axis": null}}}
    ]},
   {"title": "Subject 8", "width": 204, "height": 192, "data": {"name": "p8"},
    "resolve": {"axis": {"x": "independent", "y": "independent"}},
    "layer": [
     {"mark": {"type": "rule", "color": "black", "strokeWidth": 1},
      "encoding": {
       "x": {"field": "xlo", "type": "quantitative", "scale": {"domain": [0, 90], "nice": false, "zero": false}, "axis": {"orient": "bottom", "ticks": true, "tickColor": "black", "tickWidth": 1, "tickOpacity": 1, "zindex": 1, "values": [0,10,20,30,40,50,60,70,80,90], "tickSize": 7, "offset": -7, "labelPadding": 9, "title": "PET CBF (ml/100ml/min)", "titlePadding": 4}},
       "x2": {"field": "xhi"},
       "y": {"field": "y", "type": "quantitative", "scale": {"domain": [0, 90], "nice": false, "zero": false}, "axis": {"orient": "left", "ticks": true, "tickColor": "black", "tickWidth": 1, "tickOpacity": 1, "zindex": 1, "values": [0,10,20,30,40,50,60,70,80,90], "tickSize": 7, "offset": -7, "labelPadding": 5, "title": "MR CBF (ml/100ml/min)", "titlePadding": 24}}}},
     {"mark": {"type": "rule", "color": "black", "strokeWidth": 1},
      "encoding": {
       "x": {"field": "x", "type": "quantitative", "scale": {"domain": [0, 90], "nice": false, "zero": false}, "axis": {"orient": "bottom", "ticks": true, "tickColor": "black", "tickWidth": 1, "tickOpacity": 1, "zindex": 1, "values": [0,2,4,6,8,10,12,14,16,18,20,22,24,26,28,30,32,34,36,38,40,42,44,46,48,50,52,54,56,58,60,62,64,66,68,70,72,74,76,78,80,82,84,86,88,90], "tickSize": 3.5, "offset": -3.5, "labels": false, "title": null}},
       "y": {"field": "ylo", "type": "quantitative", "scale": {"domain": [0, 90], "nice": false, "zero": false}, "axis": {"orient": "left", "ticks": true, "tickColor": "black", "tickWidth": 1, "tickOpacity": 1, "zindex": 1, "values": [0,2,4,6,8,10,12,14,16,18,20,22,24,26,28,30,32,34,36,38,40,42,44,46,48,50,52,54,56,58,60,62,64,66,68,70,72,74,76,78,80,82,84,86,88,90], "tickSize": 3.5, "offset": -3.5, "labels": false, "title": null}},
       "y2": {"field": "yhi"}}},
     {"mark": {"type": "tick", "orient": "vertical", "size": 9, "thickness": 1, "color": "black"},
      "encoding": {
       "x": {"field": "xlo", "type": "quantitative", "scale": {"domain": [0, 90], "nice": false, "zero": false}, "axis": {"orient": "top", "ticks": true, "tickColor": "black", "tickWidth": 1, "tickOpacity": 1, "zindex": 1, "values": [0,10,20,30,40,50,60,70,80,90], "tickSize": 7, "offset": -7, "labels": false, "title": null}},
       "y": {"field": "y", "type": "quantitative", "scale": {"domain": [0, 90], "nice": false, "zero": false}, "axis": {"orient": "right", "ticks": true, "tickColor": "black", "tickWidth": 1, "tickOpacity": 1, "zindex": 1, "values": [0,10,20,30,40,50,60,70,80,90], "tickSize": 7, "offset": -7, "labels": false, "title": null}}}},
     {"mark": {"type": "tick", "orient": "vertical", "size": 9, "thickness": 1, "color": "black"},
      "encoding": {
       "x": {"field": "xhi", "type": "quantitative", "scale": {"domain": [0, 90], "nice": false, "zero": false}, "axis": {"orient": "top", "ticks": true, "tickColor": "black", "tickWidth": 1, "tickOpacity": 1, "zindex": 1, "values": [0,2,4,6,8,10,12,14,16,18,20,22,24,26,28,30,32,34,36,38,40,42,44,46,48,50,52,54,56,58,60,62,64,66,68,70,72,74,76,78,80,82,84,86,88,90], "tickSize": 3.5, "offset": -3.5, "labels": false, "title": null}},
       "y": {"field": "y", "type": "quantitative", "scale": {"domain": [0, 90], "nice": false, "zero": false}, "axis": {"orient": "right", "ticks": true, "tickColor": "black", "tickWidth": 1, "tickOpacity": 1, "zindex": 1, "values": [0,2,4,6,8,10,12,14,16,18,20,22,24,26,28,30,32,34,36,38,40,42,44,46,48,50,52,54,56,58,60,62,64,66,68,70,72,74,76,78,80,82,84,86,88,90], "tickSize": 3.5, "offset": -3.5, "labels": false, "title": null}}}},
     {"mark": {"type": "tick", "orient": "horizontal", "size": 9, "thickness": 1, "color": "black"},
      "encoding": {
       "x": {"field": "x", "type": "quantitative", "scale": {"domain": [0, 90], "nice": false, "zero": false}, "axis": null},
       "y": {"field": "ylo", "type": "quantitative", "scale": {"domain": [0, 90], "nice": false, "zero": false}, "axis": null}}},
     {"mark": {"type": "tick", "orient": "horizontal", "size": 9, "thickness": 1, "color": "black"},
      "encoding": {
       "x": {"field": "x", "type": "quantitative", "scale": {"domain": [0, 90], "nice": false, "zero": false}, "axis": null},
       "y": {"field": "yhi", "type": "quantitative", "scale": {"domain": [0, 90], "nice": false, "zero": false}, "axis": null}}},
     {"data": {"name": "f8"}, "mark": {"type": "line", "color": "black", "strokeWidth": 1.2, "clip": true},
      "encoding": {
       "x": {"field": "x", "type": "quantitative", "scale": {"domain": [0, 90], "nice": false, "zero": false}, "axis": null},
       "y": {"field": "y", "type": "quantitative", "scale": {"domain": [0, 90], "nice": false, "zero": false}, "axis": null},
       "detail": {"field": "line", "type": "nominal"}}},
     {"mark": {"type": "circle", "size": 125, "color": "black", "opacity": 1},
      "encoding": {
       "x": {"field": "x", "type": "quantitative", "scale": {"domain": [0, 90], "nice": false, "zero": false}, "axis": null},
       "y": {"field": "y", "type": "quantitative", "scale": {"domain": [0, 90], "nice": false, "zero": false}, "axis": null}}}
    ]}
  ], "spacing": 47}
 ], "spacing": 10}
],
"spacing": 5
}
